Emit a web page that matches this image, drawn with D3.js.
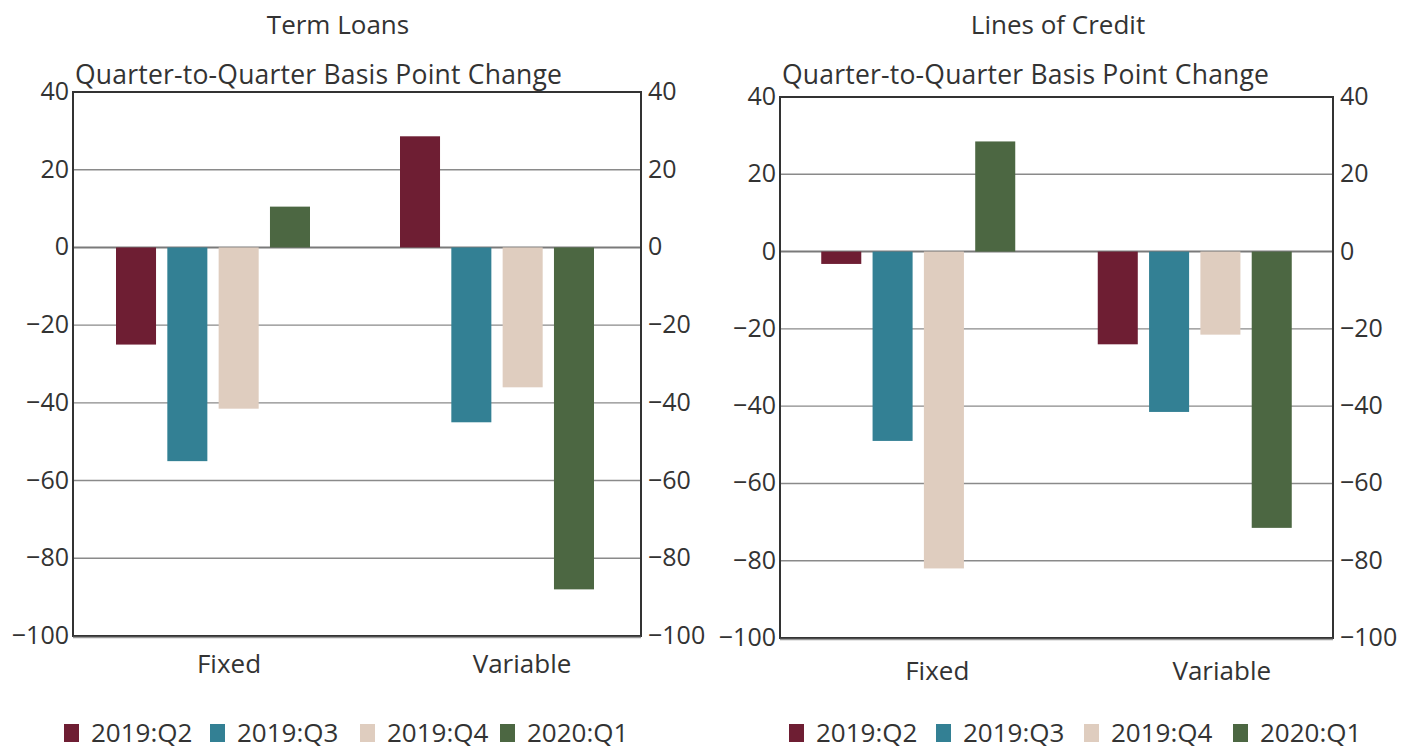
<!DOCTYPE html>
<html><head><meta charset="utf-8">
<script src="https://cdn.jsdelivr.net/npm/d3@7"></script>
<style>body{margin:0;background:#fff}svg{display:block}text{font-family:"Open Sans",sans-serif;fill:#333}</style>
</head><body><svg id="c" width="1419" height="749"></svg>
<script>
const categories = ["Fixed", "Variable"];
const seriesNames = ["2019:Q2", "2019:Q3", "2019:Q4", "2020:Q1"];
const colors = ["#6e1e33", "#338094", "#dfcdbf", "#4c6742"];
const yTicks = [40, 20, 0, -20, -40, -60, -80, -100];
const termLoans = [[-25, -55, -41.5, 10.5], [28.6, -45, -36, -88]];
const linesOfCredit = [[-3.2, -49, -82, 28.5], [-24, -41.5, -21.5, -71.5]];

const svg = d3.select("#c");
const panels = [
  {title: "Term Loans", data: termLoans, x0: 73, x1: 641, top: 92, bottom: 636, titleX: 338, grpOff: -2, catOff: [14, 23], catY: 673, legX: [64, 210, 360, 500]},
  {title: "Lines of Credit", data: linesOfCredit, x0: 780, x1: 1333, top: 97, bottom: 638, titleX: 1058, grpOff: 0, catOff: [19, 27], catY: 680, legX: [789, 936, 1084, 1233]}
];

panels.forEach(p => {
  const g = svg.append("g");
  const y = d3.scaleLinear().domain([-100, 40]).range([p.bottom, p.top]);
  const x0 = d3.scaleBand().domain(categories).range([p.x0, p.x1]).paddingInner(0).paddingOuter(0);
  const x1 = d3.scaleBand().domain(seriesNames).range([-97, 97]).paddingInner(0.22);

  g.append("text").attr("x", p.titleX).attr("y", 34).attr("text-anchor", "middle").attr("font-size", 26).text(p.title);
  g.append("text").attr("x", p.x0 + 2).attr("y", 84).attr("font-size", 26.5).attr("textLength", 487).attr("lengthAdjust", "spacing").text("Quarter-to-Quarter Basis Point Change");

  // gridlines
  g.selectAll(".grid").data(yTicks.filter(t => t !== 40 && t !== -100)).join("line")
    .attr("x1", p.x0).attr("x2", p.x1).attr("y1", d => y(d)).attr("y2", d => y(d))
    .attr("stroke", d => d === 0 ? "#7a7a7a" : "#8a8a8a").attr("stroke-width", d => d === 0 ? 2 : 1.4);

  // bars
  categories.forEach((c, ci) => {
    g.selectAll(null).data(p.data[ci]).join("rect")
      .attr("x", (d, i) => x0(c) + x0.bandwidth() / 2 + p.grpOff + x1(seriesNames[i]))
      .attr("width", x1.bandwidth())
      .attr("y", d => y(Math.max(0, d)))
      .attr("height", d => Math.abs(y(d) - y(0)))
      .attr("fill", (d, i) => colors[i]);
    g.append("text").attr("x", x0(c) + x0.bandwidth() / 2 + p.catOff[ci]).attr("y", p.catY)
      .attr("text-anchor", "middle").attr("font-size", 26).text(c);
  });

  // frame
  g.append("rect").attr("x", p.x0).attr("y", p.top).attr("width", p.x1 - p.x0).attr("height", p.bottom - p.top)
    .attr("fill", "none").attr("stroke", "#333").attr("stroke-width", 2);
  g.append("line").attr("x1", p.x0).attr("x2", p.x1).attr("y1", p.bottom + 1.5).attr("y2", p.bottom + 1.5)
    .attr("stroke", "#999").attr("stroke-width", 1.5);

  // axes
  const fmt = d => d < 0 ? "\u2212" + Math.abs(d) : String(d);
  const la = g.append("g").attr("transform", `translate(${p.x0 - 4},0)`)
    .call(d3.axisLeft(y).tickValues(yTicks).tickSize(0).tickPadding(0).tickFormat(fmt));
  const ra = g.append("g").attr("transform", `translate(${p.x1 + 7},0)`)
    .call(d3.axisRight(y).tickValues(yTicks).tickSize(0).tickPadding(0).tickFormat(fmt));
  [la, ra].forEach(a => { a.select(".domain").remove(); a.selectAll("text").attr("font-size", 25).style("font-family", '"Open Sans",sans-serif').attr("fill", "#333").attr("dy", "0.3em"); });

  // legend
  seriesNames.forEach((s, i) => {
    g.append("rect").attr("x", p.legX[i]).attr("y", 724).attr("width", 15).attr("height", 18).attr("fill", colors[i]);
    g.append("text").attr("x", p.legX[i] + 27).attr("y", 742).attr("font-size", 26).text(s);
  });
});
</script></body></html>
